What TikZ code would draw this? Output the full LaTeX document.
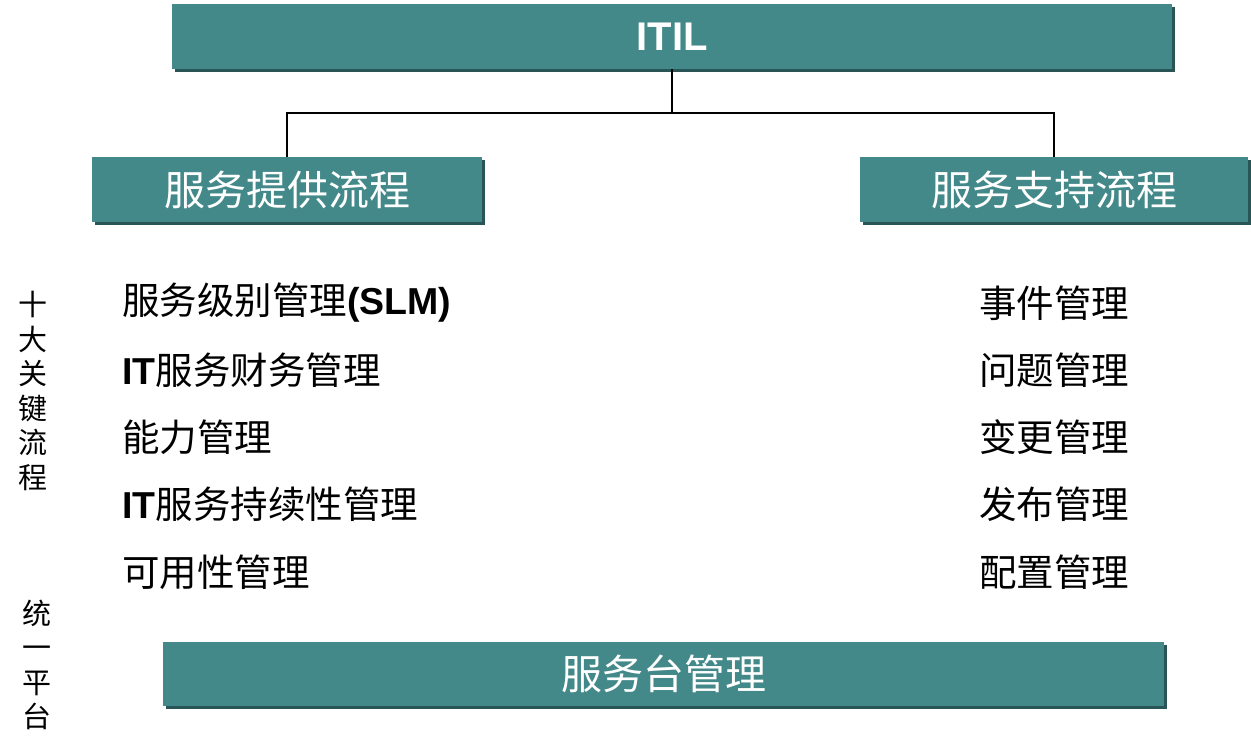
\documentclass[tikz,border=0pt]{standalone}
\usepackage{fontspec}
\setmainfont{Liberation Sans}
\newfontfamily\cjk{Noto Sans CJK SC}
\usetikzlibrary{shadows}
\definecolor{teal1}{HTML}{44898A}
\definecolor{shade1}{HTML}{2A5556}
\tikzset{
  tbox/.style={rectangle, fill=teal1, text=white, inner sep=0pt, anchor=center,
    drop shadow={shadow xshift=3pt, shadow yshift=-3pt, fill=shade1, opacity=1}},
  item/.style={anchor=west, inner sep=0pt, font=\fontsize{37.5}{44}\selectfont},
  vlab/.style={anchor=center, inner sep=0pt, align=center, font=\fontsize{29}{34.5}\selectfont\cjk},
  conn/.style={line width=2pt, black}
}
\begin{document}
\begin{tikzpicture}[x=1pt,y=-1pt]
\useasboundingbox (0,0) rectangle (1251,752);
\node[tbox, minimum width=1000pt, minimum height=65pt, font=\fontsize{40}{48}\selectfont\bfseries] (itil) at (672,36.5) {\raisebox{-1.5pt}{ITIL}};
\node[tbox, minimum width=390pt, minimum height=65pt, font=\fontsize{41}{48}\selectfont\cjk] (left) at (287,189.5) {服务提供流程};
\node[tbox, minimum width=388pt, minimum height=65pt, font=\fontsize{41}{48}\selectfont\cjk] (right) at (1054,189.5) {服务支持流程};
\node[tbox, minimum width=1001pt, minimum height=64pt, font=\fontsize{41}{48}\selectfont\cjk] (desk) at (663.5,674) {服务台管理};
\coordinate (j) at (672,113);
\draw[conn] (itil.south) -- (j);
\draw[conn] (j) -| (left);
\draw[conn] (j) -| (right);
% left items
\node[item] (l1) at (122,303) {{\cjk 服务级别管理}\textbf{(SLM)}};
\node[item] (l2) at (122,370) {\textbf{IT}{\cjk 服务财务管理}};
\node[item] (l3) at (122,437) {{\cjk 能力管理}};
\node[item] (l4) at (122,504) {\textbf{IT}{\cjk 服务持续性管理}};
\node[item] (l5) at (122,572) {{\cjk 可用性管理}};
% right items
\node[item] (r1) at (979,303) {{\cjk 事件管理}};
\node[item] (r2) at (979,370) {{\cjk 问题管理}};
\node[item] (r3) at (979,437) {{\cjk 变更管理}};
\node[item] (r4) at (979,504) {{\cjk 发布管理}};
\node[item] (r5) at (979,572) {{\cjk 配置管理}};
% vertical labels
\node[vlab] (v1) at (33,391) {十\\大\\关\\键\\流\\程};
\node[vlab] (v2) at (37,665) {统\\一\\平\\台};
\end{tikzpicture}
\end{document}
